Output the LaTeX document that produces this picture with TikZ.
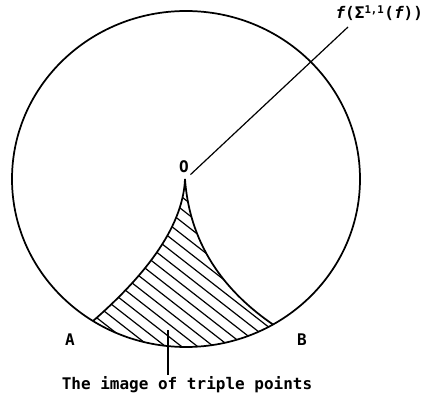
\documentclass[tikz,border=0pt]{standalone}
\usepackage{fontspec}
\newfontfamily\lettering{DejaVu Sans Mono}
\usetikzlibrary{arrows.meta}

\begin{document}
\begin{tikzpicture}[
    x=0.75pt, y=0.75pt, font=\lettering\bfseries\fontsize{12}{14}\selectfont,
    outline/.style={draw=black, line width=1.3pt},
    hatch/.style={draw=black, line width=0.9pt},
    pointer/.style={draw=black, line width=0.9pt},
    lbl/.style={inner sep=1pt},
]
\useasboundingbox (0,0) rectangle (427,400);

% ===========================================================================
% Disc and the cusped region
% ===========================================================================
\coordinate (ctr) at (186,221);
\coordinate (cusp) at (185,221);
\coordinate (ptA) at (93,79);
\coordinate (ptB) at (273,75.5);

\draw[outline] (ctr) ellipse [x radius=174, y radius=168];

\begin{scope}
  \clip (cusp) .. controls (183,170) and (140,120) .. (ptA)
        arc[start angle=237.7, end angle=300, x radius=174, y radius=168]
        .. controls (230,105) and (190,150) .. (cusp) -- cycle;
  \foreach \k in {0,...,19}
    \draw[hatch] ({90+16*\k-250},{75+250*0.78}) -- ({90+16*\k+100},{75-100*0.78});
\end{scope}

\draw[outline] (cusp) .. controls (183,170) and (140,120) .. (ptA);
\draw[outline] (cusp) .. controls (190,150) and (230,105) .. (ptB);

% ----- labels -----
\node[lbl] (o) at (184,233) {O};
\node[lbl] (a) at (70,60) {A};
\node[lbl] (b) at (302,60) {B};

\node[lbl, anchor=base west] (flab) at (334,381)
      {\itshape f\upshape(Σ\textsuperscript{1,1}(\itshape f\upshape))};
\coordinate (fend) at (348,373);
\draw[pointer] (o.south east) -- (fend);

\node[lbl] (img) at (187,15) {The image of triple points};
\coordinate (ptr) at (168,70);
\draw[pointer] (ptr) -- (ptr |- img.north);

\end{tikzpicture}
\end{document}
